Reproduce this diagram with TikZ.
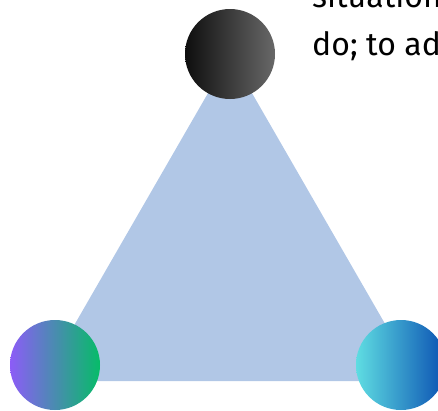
\documentclass[tikz,border=0pt]{standalone}
\usepackage{fontspec}
\setmainfont{Fira Sans}
\usepackage{xcolor}
\usepackage{tikz}
\definecolor{triblue}{HTML}{B1C7E6}
\definecolor{topdark}{HTML}{0E0E0E}
\definecolor{topgray}{HTML}{686868}
\definecolor{leftviolet}{HTML}{8C5CF7}
\definecolor{leftgreen}{HTML}{06BC68}
\definecolor{rightcyan}{HTML}{5FDDE2}
\definecolor{rightblue}{HTML}{0A50B2}

\begin{document}
\begin{tikzpicture}[x=1pt,y=-1pt,
    ball/.style={circle,minimum size=90pt,inner sep=0pt},
    prose/.style={anchor=base west,inner sep=0pt,font=\fontsize{32}{48}\selectfont}]
  \useasboundingbox (0,0) rectangle (438,410);
  \clip (0,0) rectangle (438,410);
  % triangle
  \coordinate (apex) at (230,55);
  \coordinate (baseL) at (42,381);
  \coordinate (baseR) at (418,381);
  \fill[triblue] (apex) -- (baseL) -- (baseR) -- cycle;
  % corner balls
  \node[ball,left color=topdark,right color=topgray] (top) at (230,54) {};
  \node[ball,left color=leftviolet,right color=leftgreen] (left) at (55,365) {};
  \node[ball,left color=rightcyan,right color=rightblue] (right) at (401,365) {};
  % text, cut by the page edge
  \node[prose] (lineA) at (312,7) {situation};
  \node[prose] (lineB) at (312,55) {do; to ad};
\end{tikzpicture}
\end{document}
